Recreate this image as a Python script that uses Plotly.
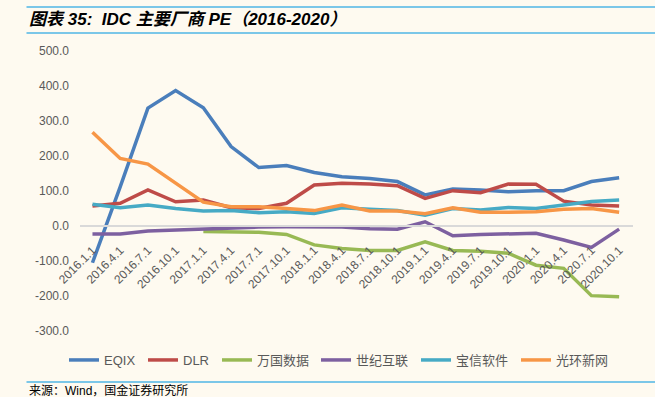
import plotly.graph_objects as go

dates = ["2016.1.1","2016.4.1","2016.7.1","2016.10.1","2017.1.1","2017.4.1","2017.7.1","2017.10.1",
         "2018.1.1","2018.4.1","2018.7.1","2018.10.1","2019.1.1","2019.4.1","2019.7.1","2019.10.1",
         "2020.1.1","2020.4.1","2020.7.1","2020.10.1"]
eqix = [-105, 112, 337, 387, 338, 227, 167, 173, 153, 141, 136, 127, 89, 106, 103, 98, 101, 101, 127, 138]
dlr = [57, 65, 103, 69, 74, 52, 50, 65, 117, 122, 120, 115, 79, 101, 95, 120, 119, 71, 60, 57]
wanguo = [None, None, None, None, -16, -17, -18, -24, -54, -64, -70, -70, -45, -70, -72, -78, -112, -121, -199, -202]
shiji = [-23, -23, -14, -11, -9, -6, -3, -2, -2, -3, -8, -9, 12, -28, -24, -23, -21, -40, -61, -9]
baoxin = [62, 52, 60, 50, 43, 44, 38, 41, 36, 52, 48, 44, 31, 50, 46, 53, 50, 60, 70, 74]
guanghuan = [268, 193, 177, 123, 68, 55, 55, 50, 44, 60, 43, 43, 35, 52, 39, 39, 41, 48, 50, 39]
yticks = [-300, -200, -100, 0, 100, 200, 300, 400, 500]

series = [
    ("EQIX", eqix, "#4A7EBB"),
    ("DLR", dlr, "#BE4B48"),
    ("万国数据", wanguo, "#98B954"),
    ("世纪互联", shiji, "#7D60A0"),
    ("宝信软件", baoxin, "#46AAC5"),
    ("光环新网", guanghuan, "#F79646"),
]
# legend entry start positions (px)
legend_x = [71, 150, 224, 323, 423, 523]

W, H = 655, 397
L, R, T, B = 80, 22, 51, 66
pw, ph = W - L - R, H - T - B

def px(x):
    return (x - L) / pw

def py(y):
    return (H - B - y) / ph

fig = go.Figure()
xs = list(range(len(dates)))
bg = "#FEFAF0"
legend_layouts = {}
for i, (name, vals, color) in enumerate(series):
    lg = "legend" if i == 0 else f"legend{i+1}"
    fig.add_trace(go.Scatter(x=xs, y=vals, name=name, mode="lines", legend=lg,
                             line=dict(color=color, width=3.5), connectgaps=False))
    legend_layouts[lg] = dict(orientation="h", x=px(legend_x[i] - 7), xanchor="left",
                              y=py(360), yanchor="middle",
                              font=dict(size=13, family="Liberation Sans, Noto Sans CJK SC", color="#595959"),
                              bgcolor="rgba(0,0,0,0)", itemwidth=30)

fig.update_layout(
    width=W, height=H,
    margin=dict(l=L, r=R, t=T, b=B, autoexpand=False),
    paper_bgcolor=bg, plot_bgcolor=bg,
    font=dict(family="Liberation Sans, Noto Sans CJK SC", color="#595959"),
    showlegend=True,
    xaxis=dict(range=[-0.45, 19.5], tickmode="array", tickvals=xs, ticktext=dates,
               tickangle=-45, tickfont=dict(size=12, color="#595959"),
               anchor="free", position=300 / 800, showline=True, linecolor="#D9D9D9",
               linewidth=1.5, showgrid=False, zeroline=False, ticks="", ticklabelstandoff=12),
    yaxis=dict(range=[-300, 500], tickvals=yticks, ticktext=[f"{v:.1f}" for v in yticks],
               tickfont=dict(size=12, color="#595959"), showgrid=False, zeroline=False,
               showline=False, ticks="", ticklabelstandoff=10),
    **legend_layouts,
)

# header / footer lines
for yy in (7, 33, 382):
    fig.add_shape(type="line", xref="paper", yref="paper", x0=px(26.5), x1=px(655), y0=py(yy), y1=py(yy),
                  line=dict(color="#4FB6E6", width=1.5))

fig.add_annotation(text="<b><i>图表 35:  IDC 主要厂商 PE（2016-2020）</i></b>", xref="paper", yref="paper",
                   x=px(27), y=py(20), xanchor="left", yanchor="middle", showarrow=False,
                   font=dict(size=17, color="#000000", family="Liberation Sans, Noto Sans CJK SC"))
fig.add_annotation(text="来源：Wind，国金证券研究所", xref="paper", yref="paper",
                   x=px(27), y=py(390), xanchor="left", yanchor="middle", showarrow=False,
                   font=dict(size=12, color="#000000", family="Liberation Sans, Noto Sans CJK SC"))

fig.write_html("out.html", config={"displayModeBar": False},
               post_script="document.body.style.margin='0';document.body.style.background='%s';" % bg)
